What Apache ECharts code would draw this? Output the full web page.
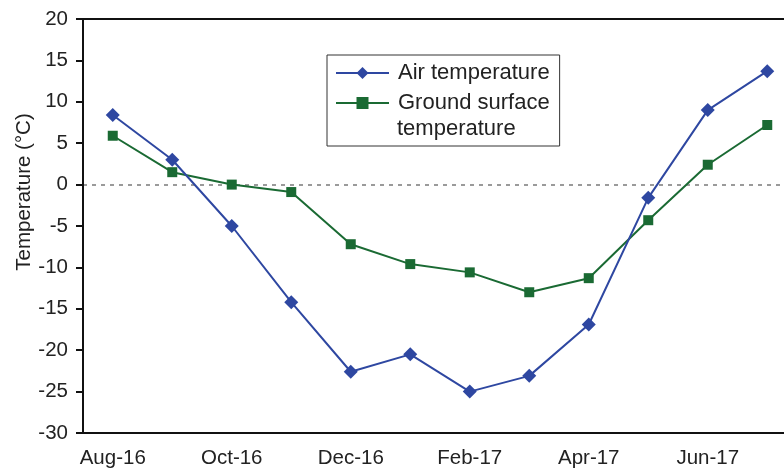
<!DOCTYPE html>
<html>
<head>
<meta charset="utf-8">
<script src="https://cdn.jsdelivr.net/npm/echarts@6/dist/echarts.min.js"></script>
<style>
html,body{margin:0;padding:0;background:#fff;overflow:hidden;}
#chart{width:797px;height:472px;}
</style>
</head>
<body>
<div id="chart"></div>
<script>
const months = ['Aug-16','Sep-16','Oct-16','Nov-16','Dec-16','Jan-17','Feb-17','Mar-17','Apr-17','May-17','Jun-17','Jul-17'];
const airTemp = [8.4, 3.0, -5.0, -14.2, -22.6, -20.5, -25.0, -23.1, -16.9, -1.6, 9.0, 13.7];
const groundTemp = [5.9, 1.5, 0.0, -0.9, -7.2, -9.6, -10.6, -13.0, -11.3, -4.3, 2.4, 7.2];
const yTicks = {min: -30, max: 20, interval: 5};
const zeroRef = {min: -30, max: 20, interval: 30};

const blue = '#2E47A1';
const green = '#1A6A33';
const font = 'Liberation Sans, Arial, sans-serif';

const chart = echarts.init(document.getElementById('chart'), null, {renderer: 'canvas'});
chart.setOption({
  animation: false,
  backgroundColor: '#fff',
  grid: {left: 83, right: 0, top: 19, bottom: 39, show: true, borderColor: '#111', borderWidth: 2, backgroundColor: 'transparent'},
  legend: {
    orient: 'vertical',
    left: 327, top: 55,
    padding: [5, 10, 30, 8],
    borderColor: '#333', borderWidth: 1,
    itemWidth: 53, itemHeight: 15, itemGap: 4,
    textStyle: {fontFamily: font, fontSize: 22, color: '#222', lineHeight: 26, padding: [0, 0, 0, 4]},
    formatter: function (n) { return n === 'Ground surface temperature' ? 'Ground surface' : n; },
    data: ['Air temperature', 'Ground surface temperature']
  },
  graphic: [
    {type: 'text', left: 397, top: 118, style: {text: 'temperature', font: '22px Liberation Sans, Arial, sans-serif', fill: '#222'}},
    {type: 'text', x: 24, y: 192, rotation: Math.PI / 2, style: {text: 'Temperature (°C)', font: '20.5px Liberation Sans, Arial, sans-serif', fill: '#222', align: 'center', verticalAlign: 'middle'}}
  ],
  xAxis: {
    type: 'category',
    data: months,
    boundaryGap: true,
    z: 5,
    axisLine: {onZero: false, lineStyle: {color: '#111', width: 2}},
    axisTick: {interval: 1, length: 4, lineStyle: {color: '#111', width: 2}},
    axisLabel: {interval: 1, margin: 15, fontFamily: font, fontSize: 20.5, color: '#222'},
    splitLine: {show: false}
  },
  yAxis: [
    {
      type: 'value',
      min: yTicks.min, max: yTicks.max, interval: yTicks.interval,
      z: 5,
      axisLine: {show: true, onZero: false, lineStyle: {color: '#111', width: 2}},
      axisTick: {show: true, length: 7, lineStyle: {color: '#111', width: 2}},
      axisLabel: {margin: 15, fontFamily: font, fontSize: 20.5, color: '#222'},
      splitLine: {show: false}
    },
    {
      type: 'value', position: 'left',
      min: zeroRef.min, max: zeroRef.max, interval: zeroRef.interval,
      z: 0,
      axisLine: {show: false}, axisTick: {show: false}, axisLabel: {show: false},
      splitLine: {show: true, showMinLine: false, showMaxLine: false, lineStyle: {color: '#9a9a9a', type: [4, 5], width: 2}}
    }
  ],
  series: [
    {
      name: 'Air temperature', type: 'line', data: airTemp, yAxisIndex: 0,
      symbol: 'diamond', symbolSize: 14,
      lineStyle: {color: blue, width: 2}, itemStyle: {color: blue},
      z: 3
    },
    {
      name: 'Ground surface temperature', type: 'line', data: groundTemp, yAxisIndex: 0,
      symbol: 'rect', symbolSize: 10,
      lineStyle: {color: green, width: 2}, itemStyle: {color: green},
      z: 2
    }
  ]
});
</script>
</body>
</html>
